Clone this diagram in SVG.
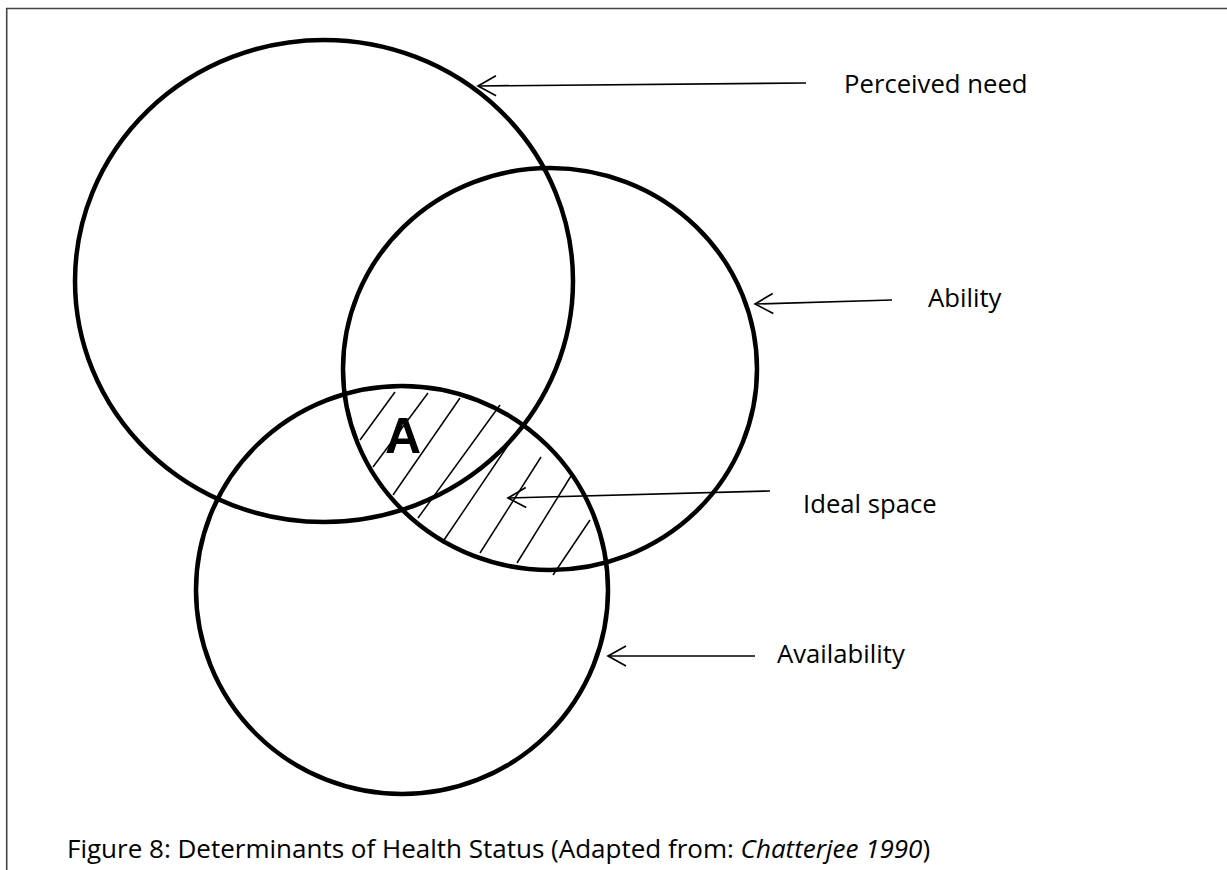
<svg xmlns="http://www.w3.org/2000/svg" width="1227" height="870" viewBox="0 0 1227 870">
  <style>
    .frame { fill: none; stroke: #444; stroke-width: 1.6; }
    .set { fill: none; stroke: #000; stroke-width: 4.5; }
    .hatch { fill: none; stroke: #000; stroke-width: 1.5; }
    .arrow { fill: none; stroke: #000; stroke-width: 1.7; marker-end: url(#openHead); }
    .label { font-family: "Open Sans", "Liberation Sans", sans-serif; font-size: 25.7px; fill: #000; }
    .caption { font-family: "Open Sans", "Liberation Sans", sans-serif; font-size: 26px; fill: #000; }
    .big { font-family: "Liberation Sans", Arial, sans-serif; font-size: 50px; font-weight: bold; fill: #000; }
  </style>
  <defs>
    <marker id="openHead" markerUnits="userSpaceOnUse" viewBox="-20 -12 22 24" refX="0" refY="0" markerWidth="22" markerHeight="24" orient="auto">
      <path d="M -18 -10 L 0 0 L -18 10" fill="none" stroke="#000" stroke-width="1.7"/>
    </marker>
  </defs>
  <rect width="1227" height="870" fill="#fff"/>
  <path class="frame" d="M 1227 8.5 L 6.7 8.5 L 6.7 870"/>

  <g id="hatching">
    <line class="hatch" x1="360" y1="440" x2="395" y2="392"/>
    <line class="hatch" x1="373" y1="467" x2="428" y2="393"/>
    <line class="hatch" x1="393" y1="495" x2="460" y2="398"/>
    <line class="hatch" x1="418" y1="518" x2="500" y2="405"/>
    <line class="hatch" x1="442" y1="543" x2="517" y2="432"/>
    <line class="hatch" x1="480" y1="553" x2="541" y2="457"/>
    <line class="hatch" x1="517" y1="563" x2="571" y2="476"/>
    <line class="hatch" x1="553" y1="575" x2="590" y2="520"/>
  </g>

  <g id="perceived-need">
    <ellipse class="set" cx="324" cy="281" rx="249" ry="241"/>
  </g>
  <g id="ability">
    <ellipse class="set" cx="550" cy="369" rx="207" ry="201"/>
  </g>
  <g id="availability">
    <ellipse class="set" cx="402" cy="590" rx="206" ry="204"/>
  </g>
  <g id="region-a">
    <text class="big" x="385" y="453">A</text>
  </g>

  <g id="connectors">
    <line class="arrow" x1="806" y1="83" x2="478" y2="86"/>
    <line class="arrow" x1="892" y1="300" x2="755" y2="304"/>
    <line class="arrow" x1="770" y1="491" x2="508" y2="498"/>
    <line class="arrow" x1="755" y1="656" x2="608" y2="656"/>
  </g>

  <g id="label-perceived-need"><text class="label" x="844" y="93">Perceived need</text></g>
  <g id="label-ability"><text class="label" x="928" y="307">Ability</text></g>
  <g id="label-ideal-space"><text class="label" x="803" y="513">Ideal space</text></g>
  <g id="label-availability"><text class="label" x="777" y="663">Availability</text></g>

  <g id="caption">
    <text class="caption" x="67" y="858">Figure 8: Determinants of Health Status (Adapted from: <tspan font-style="italic">Chatterjee 1990</tspan>)</text>
  </g>
</svg>
